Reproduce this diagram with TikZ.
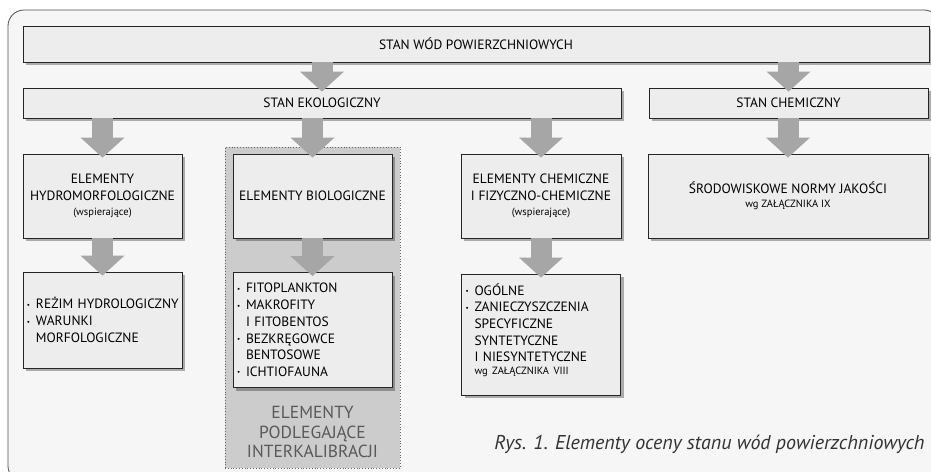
\documentclass[tikz,border=0pt]{standalone}
\usepackage{fontspec}
\setmainfont{PT Sans}
\usetikzlibrary{arrows.meta,shadows,positioning}

\definecolor{pfeilgrau}{RGB}{166,166,166}
\definecolor{kastengrau}{RGB}{237,237,237}
\definecolor{rahmengrau}{RGB}{80,80,80}
\definecolor{hintergrau}{RGB}{246,246,246}
\definecolor{zonegrau}{RGB}{204,204,204}

\newcommand{\pkt}{\makebox[9pt][l]{\raisebox{1.5pt}{\fontsize{7}{7}\selectfont\textbullet}}}
\newcommand{\wcz}{\hspace*{9pt}}
\newcommand{\klein}{\fontsize{10.5}{12}\selectfont}

\begin{document}
\begin{tikzpicture}[x=1pt,y=-1pt,
		kasten/.style={draw=black!85, line width=0.8pt, fill=kastengrau, inner sep=0pt, align=center,
			font=\fontsize{13.5}{17}\selectfont,
			drop shadow={shadow xshift=3pt, shadow yshift=-3pt, opacity=0.3, fill=black}},
		liste/.style={kasten, align=left, inner xsep=4pt, text width=151pt, font=\fontsize{13.5}{16.7}\selectfont},
		pfeil/.style={draw=pfeilgrau, line width=21pt,
			-{Triangle[length=20pt, width=44pt, line width=0pt]}, shorten >=-4pt}]

		\useasboundingbox (0,0) rectangle (931,471);
		\clip (0,0) rectangle (931,471);
		\fill[white] (0,0) rectangle (931,471);
		\draw[draw=rahmengrau, fill=hintergrau, line width=0.8pt, rounded corners=16pt] (8,10) rectangle (940,482);

		% interkalibracja
		\node[draw=black!60, dotted, line width=0.8pt, fill=zonegrau, minimum width=175, minimum height=321] (zone) at (312.5,307.5) {};
		\node[text=black!65, align=center, font=\fontsize{17.5}{19.5}\selectfont] (kalib) at (312.5,432) {ELEMENTY\\PODLEGAJĄCE\\INTERKALIBRACJI};

		\node[kasten, minimum width=906, minimum height=36] (stan) at (476,44) {STAN WÓD POWIERZCHNIOWYCH};
		\node[kasten, minimum width=598, minimum height=30] (eko) at (322,103) {STAN EKOLOGICZNY};
		\node[kasten, minimum width=279, minimum height=30] (chem) at (788.5,103) {STAN CHEMICZNY};

		\node[kasten, minimum width=159, minimum height=84] (hydro) at (102.5,196) {ELEMENTY\\HYDROMORFOLOGICZNE\\[-2pt]{\klein (wspierające)}};
		\node[kasten, minimum width=159, minimum height=84] (bio) at (312.5,196) {ELEMENTY BIOLOGICZNE};
		\node[kasten, minimum width=160, minimum height=84] (fizchem) at (541,196) {ELEMENTY CHEMICZNE\\I FIZYCZNO-CHEMICZNE\\[-2pt]{\klein (wspierające)}};
		\node[kasten, minimum width=280, minimum height=84] (normy) at (788,196) {ŚRODOWISKOWE NORMY JAKOŚCI\\[-3pt]{\klein wg ZAŁĄCZNIKA IX}};

		\node[liste, minimum height=96] (hydrol) at (102.5,320) {\pkt\mbox{REŻIM HYDROLOGICZNY}\\\pkt WARUNKI\\\wcz MORFOLOGICZNE};
		\node[liste, minimum height=115] (biol) at (312.5,330) {\pkt FITOPLANKTON\\\pkt MAKROFITY\\\wcz I FITOBENTOS\\\pkt BEZKRĘGOWCE\\\wcz BENTOSOWE\\\pkt ICHTIOFAUNA};
		\node[liste, minimum height=121] (fizl) at (541,334.5) {\pkt OGÓLNE\\\pkt ZANIECZYSZCZENIA\\\wcz SPECYFICZNE\\\wcz SYNTETYCZNE\\\wcz I NIESYNTETYCZNE\\[-4pt]\wcz{\klein wg ZAŁĄCZNIKA VIII}\rule[-11pt]{0pt}{0pt}};

		\path [pfeil] (stan.south -| eko.north) -- (eko.north);
		\path [pfeil] (stan.south -| chem.north) -- (chem.north);
		\path [pfeil] (eko.south -| hydro.north) -- (hydro.north);
		\path [pfeil] (eko.south -| bio.north) -- (bio.north);
		\path [pfeil] (eko.south -| fizchem.north) -- (fizchem.north);
		\path [pfeil] (chem.south -| normy.north) -- (normy.north);
		\path [pfeil] (hydro.south) -- (hydrol.north);
		\path [pfeil] (bio.south) -- (biol.north);
		\path [pfeil] (fizchem.south) -- (fizl.north);

		\node[anchor=base east, text=black!80, font=\fontsize{20}{23}\selectfont\itshape] (podpis) at (928,449) {Rys. 1. Elementy oceny stanu wód powierzchniowych};

	\end{tikzpicture}
\end{document}
